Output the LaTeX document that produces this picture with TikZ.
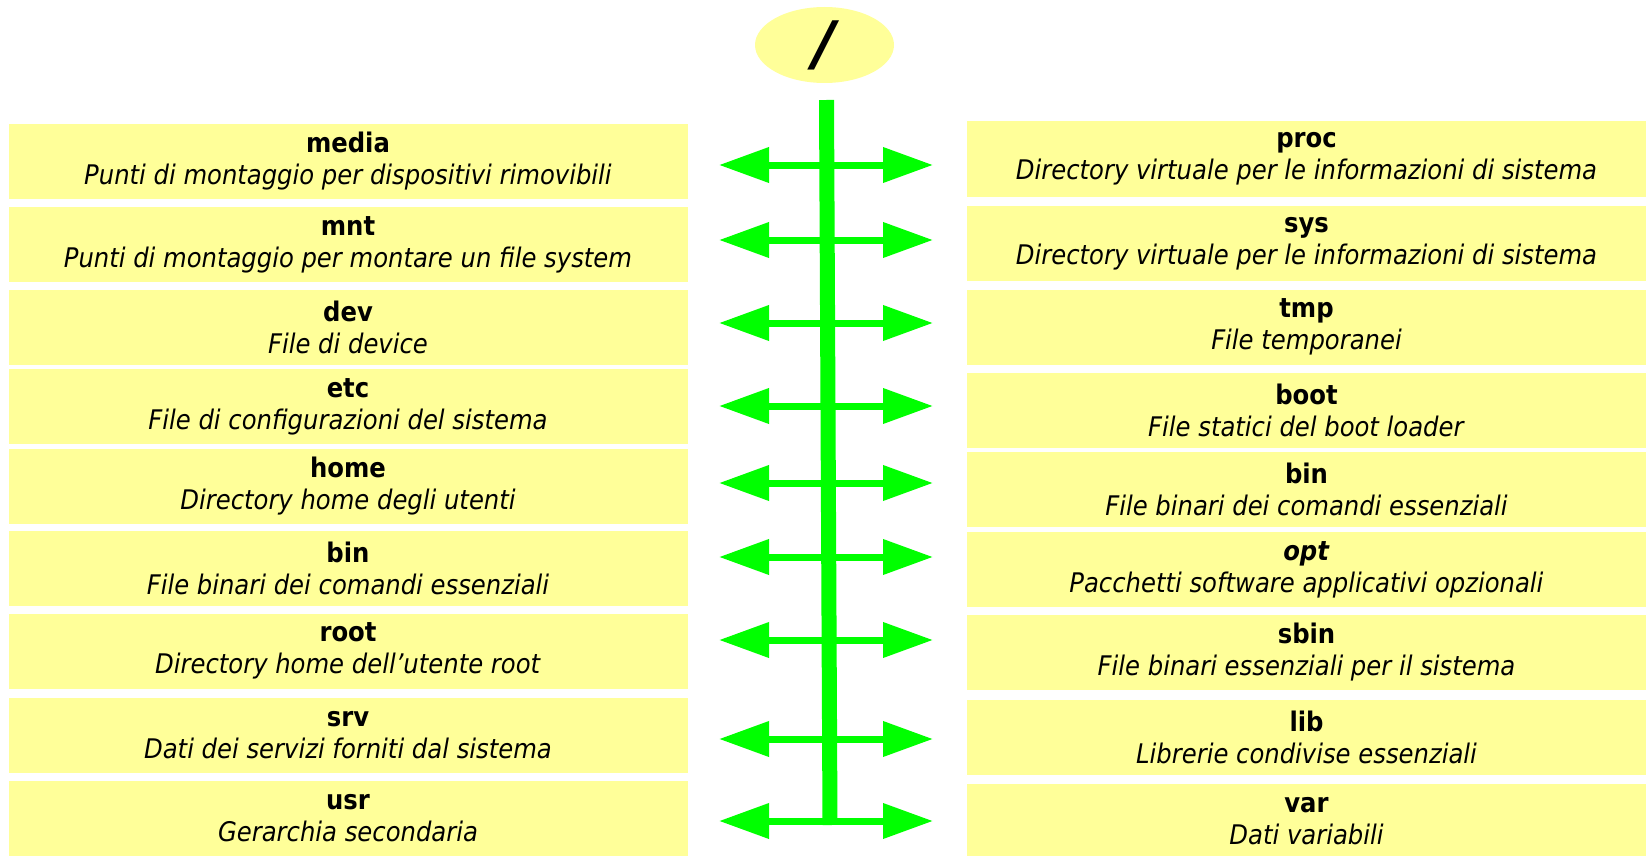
\documentclass[tikz,border=0pt]{standalone}
\usepackage{fontspec}
\setmainfont{DejaVu Sans Condensed}
\newfontfamily\rootfont{DejaVu Sans}
\usetikzlibrary{arrows.meta,shapes.geometric}
\definecolor{boxfill}{RGB}{255,255,153}
\definecolor{treegreen}{RGB}{0,255,0}
\tikzset{
  dirbox/.style={fill=boxfill,rectangle,inner sep=0pt,minimum width=679pt,minimum height=75pt,align=center,font=\fontsize{27}{32}\selectfont},
  branch/.style={treegreen,line width=7pt,{Triangle[length=50pt,width=34pt]}-{Triangle[length=50pt,width=34pt]}}
}
\begin{document}
\begin{tikzpicture}[x=1pt,y=-1pt]
  \useasboundingbox (0,0) rectangle (1646,856);
  % root
  \node (root) at (824.5,45) [ellipse,fill=boxfill,minimum width=139pt,minimum height=76pt,inner sep=0pt,font=\rootfont\fontsize{60}{60}\selectfont\bfseries\itshape] {/};
  % left column
  \node (media) at (348,161.5) [dirbox] {\textbf{media}\\\textit{Punti di montaggio per dispositivi rimovibili}};
  \node (mnt) at (348,244.5) [dirbox] {\textbf{mnt}\\\textit{Punti di montaggio per montare un file system}};
  \node (dev) at (348,327) [dirbox] {\textbf{dev}\\\textit{File di device}};
  \node (etc) at (348,406.5) [dirbox] {\textbf{etc}\\\textit{File di configurazioni del sistema}};
  \node (home) at (348,486) [dirbox] {\textbf{home}\\\textit{Directory home degli utenti}};
  \node (binL) at (348,568.5) [dirbox] {\textbf{bin}\\\textit{File binari dei comandi essenziali}};
  \node (rootdir) at (348,651) [dirbox] {\textbf{root}\\\textit{Directory home dell'utente root}};
  \node (srv) at (348,735.5) [dirbox] {\textbf{srv}\\\textit{Dati dei servizi forniti dal sistema}};
  \node (usr) at (348,818.5) [dirbox] {\textbf{usr}\\\textit{Gerarchia secondaria}};
  % right column
  \node (proc) at (1306.5,159) [dirbox] {\textbf{proc}\\\textit{Directory virtuale per le informazioni di sistema}};
  \node (sys) at (1306.5,243.5) [dirbox] {\textbf{sys}\\\textit{Directory virtuale per le informazioni di sistema}};
  \node (tmp) at (1306.5,327) [dirbox] {\textbf{tmp}\\\textit{File temporanei}};
  \node (boot) at (1306.5,410) [dirbox] {\textbf{boot}\\\textit{File statici del boot loader}};
  \node (binR) at (1306.5,489.5) [dirbox] {\textbf{bin}\\\textit{File binari dei comandi essenziali}};
  \node (opt) at (1306.5,569.5) [dirbox] {\textbf{\textit{opt}}\\\textit{Pacchetti software applicativi opzionali}};
  \node (sbin) at (1306.5,652.5) [dirbox] {\textbf{sbin}\\\textit{File binari essenziali per il sistema}};
  \node (lib) at (1306.5,737) [dirbox] {\textbf{lib}\\\textit{Librerie condivise essenziali}};
  \node (var) at (1306.5,821.5) [dirbox] {\textbf{var}\\\textit{Dati variabili}};
  % trunk
  \coordinate (top) at (826.5,100);
  \coordinate (bottom) at (830,825);
  \draw [treegreen,line width=15pt] (top) -- (bottom);
  % branches
  \foreach \y/\n in {165/1,240/2,323/3,406/4,483/5,557/6,640/7,739/8,821/9} {
    \coordinate (l\n) at (719,\y);
    \coordinate (r\n) at (933,\y);
    \draw [branch] (l\n) -- (r\n);
  }
\end{tikzpicture}
\end{document}
